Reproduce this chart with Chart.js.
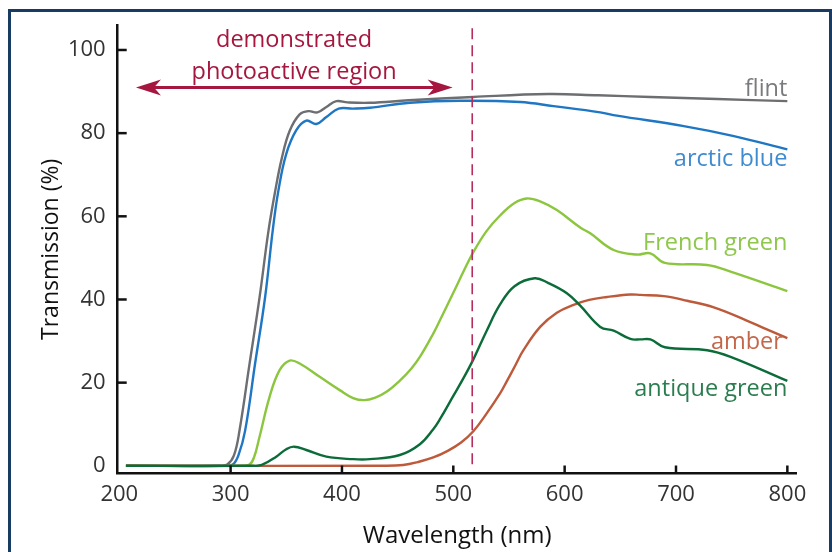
<!DOCTYPE html>
<html><head><meta charset="utf-8">
<script src="https://cdn.jsdelivr.net/npm/chart.js@4.4.1/dist/chart.umd.min.js"></script>
<style>
html,body{margin:0;padding:0;background:#fff;overflow:hidden;width:832px;height:552px;}
#wrap{position:relative;width:832px;height:552px;}
#frame{position:absolute;left:8px;top:9px;width:824px;height:600px;box-sizing:border-box;border:3px solid #183b63;pointer-events:none;}
canvas{position:absolute;left:0;top:0;}
</style></head><body>
<div id="wrap"><canvas id="c" width="832" height="552"></canvas><div id="frame"></div></div>
<script>
// ---- data (wavelength nm, transmission %) ----
const xTicks = [200, 300, 400, 500, 600, 700, 800];
const yTicks = [0, 20, 40, 60, 80, 100];

const flintNm = [206, 290, 297, 303, 308, 317, 326, 334, 340, 346, 353, 362, 370, 378, 386, 395, 405, 425, 460, 518, 585, 630, 677, 737, 800];
const flintT  = [0, 0, 0.3, 2.5, 8.5, 24.5, 40.5, 56.5, 66, 74, 80.5, 84.5, 85.3, 85, 86.3, 87.7, 87.4, 87.3, 87.9, 88.7, 89.4, 89.1, 88.7, 88.2, 87.7];

const arcticNm = [206, 295, 302, 307, 313, 322, 331, 338, 343, 350, 359, 368, 377, 386, 397, 410, 425, 461, 506, 560, 590, 632, 647, 707, 752, 800];
const arcticT  = [0, 0, 0.3, 2.5, 8.4, 24.6, 40.6, 57, 66.3, 75, 80.7, 83, 82.2, 83.9, 85.9, 85.9, 86.1, 87.3, 87.8, 87.5, 86.5, 85, 84.2, 81.7, 79.3, 76.1];

const frenchNm = [206, 310, 317, 321, 326, 335, 344, 353, 362, 380, 398, 410, 420, 430, 440, 452, 462, 470, 482, 488, 500, 510, 518, 530, 542, 555, 566, 578, 593, 614, 623, 644, 665, 677, 690, 728, 749, 800];
const frenchT  = [0, 0, 0.3, 2, 7, 16.6, 23, 25.3, 24.6, 21.4, 18.2, 16.3, 15.8, 16.4, 17.8, 20.5, 23.3, 26.2, 31.8, 35.0, 41.6, 47.2, 51.4, 56.5, 60.2, 63.2, 64.3, 63.6, 61.5, 57.3, 55.9, 51.9, 50.8, 51.1, 48.8, 48.3, 46.7, 42];

const antiqueNm = [206, 320, 328, 341, 350, 357, 368, 386, 410, 425, 452, 470, 482, 488, 500, 510, 518, 530, 542, 555, 573, 585, 602, 614, 632, 644, 659, 668, 677, 690, 728, 749, 800];
const antiqueT  = [0, 0, 0.2, 2.2, 4, 4.6, 3.8, 2.2, 1.6, 1.6, 2.6, 5.2, 8.8, 11.2, 16.8, 21.5, 25.6, 32.5, 38.8, 43.2, 45.1, 44, 41.5, 38.5, 33.4, 32.5, 30.5, 30.4, 30.4, 28.5, 27.8, 26.2, 20.4];

const amberNm = [206, 440, 455, 468, 482, 495, 507, 518, 530, 542, 548, 556, 563, 578, 593, 608, 622, 638, 659, 668, 689, 710, 734, 763, 780, 800];
const amberT  = [0, 0, 0.2, 0.9, 2.0, 3.6, 5.6, 8.3, 12.6, 17.4, 20.3, 24.3, 27.8, 33.4, 36.8, 38.7, 39.9, 40.6, 41.2, 41.1, 40.8, 39.7, 38.1, 35, 33, 30.7];

const seriesNames = ['antique green', 'amber', 'French green', 'arctic blue', 'flint'];
// label anchor (nm, transmission %) for each series name
const labelNm = [800, 796, 800, 800, 800];
const labelT  = [16.9, 28.1, 52.0, 72.1, 88.9];

const regionText = ['demonstrated', 'photoactive region'];
const regionTextNm = 357;
const regionTextT = [100.7, 93.0];
const arrowNm = [215, 499.4];
const arrowT = 91.0;
const cutoffNm = 517;
const cutoffT = [105.2, -1];

// ---- build ----
const zip = (xs, ys) => xs.map((v, i) => ({x: v, y: ys[i]}));
const lineCol = ['#0b6c39', '#bd5a3b', '#8cc63f', '#1f77c4', '#6d6e71'];
const textCol = ['#2b7d50', '#c46649', '#8ec74a', '#3f8bd0', '#7a7b7e'];
const seriesData = [zip(antiqueNm, antiqueT), zip(amberNm, amberT), zip(frenchNm, frenchT), zip(arcticNm, arcticT), zip(flintNm, flintT)];

const FONT = "'Open Sans', 'Noto Sans', sans-serif";
const crimson = '#a6173f';

const annot = {
  id: 'annot',
  afterDraw(chart) {
    const {ctx, scales: {x, y}} = chart;
    ctx.save();
    // inward tick marks
    ctx.strokeStyle = '#111'; ctx.lineWidth = 2.5; ctx.lineCap = 'butt';
    const y0 = y.getPixelForValue(y.min), x0 = x.getPixelForValue(x.min);
    yTicks.forEach(v => { if (v === 0) return; const py = y.getPixelForValue(v);
      ctx.beginPath(); ctx.moveTo(x0, py); ctx.lineTo(x0 + 9, py); ctx.stroke(); });
    xTicks.forEach(v => { if (v === 200) return; const px = x.getPixelForValue(v);
      ctx.beginPath(); ctx.moveTo(px, y0); ctx.lineTo(px, y0 - 8); ctx.stroke(); });

    // dashed cutoff line
    ctx.strokeStyle = '#b72c5c'; ctx.lineWidth = 1.6; ctx.setLineDash([11, 6]);
    const cx = x.getPixelForValue(cutoffNm);
    ctx.beginPath(); ctx.moveTo(cx, y.getPixelForValue(cutoffT[0])); ctx.lineTo(cx, y.getPixelForValue(cutoffT[1])); ctx.stroke();
    ctx.setLineDash([]);

    // double arrow
    const ay = y.getPixelForValue(arrowT);
    const ax1 = x.getPixelForValue(arrowNm[0]), ax2 = x.getPixelForValue(arrowNm[1]);
    ctx.strokeStyle = crimson; ctx.fillStyle = crimson; ctx.lineWidth = 3;
    ctx.beginPath(); ctx.moveTo(ax1 + 16, ay); ctx.lineTo(ax2 - 16, ay); ctx.stroke();
    [[ax1, 1], [ax2, -1]].forEach(([tx, d]) => {
      ctx.beginPath(); ctx.moveTo(tx, ay); ctx.lineTo(tx + d * 25, ay - 8);
      ctx.lineTo(tx + d * 18, ay); ctx.lineTo(tx + d * 25, ay + 8); ctx.closePath(); ctx.fill();
    });

    // region text
    ctx.font = "23.5px " + FONT; ctx.textAlign = 'center'; ctx.textBaseline = 'alphabetic';
    regionText.forEach((t, i) => ctx.fillText(t, x.getPixelForValue(regionTextNm), y.getPixelForValue(regionTextT[i])));

    // series labels
    ctx.font = "23.5px " + FONT; ctx.textAlign = 'right';
    seriesNames.forEach((t, i) => { ctx.fillStyle = textCol[i];
      ctx.fillText(t, x.getPixelForValue(labelNm[i]), y.getPixelForValue(labelT[i])); });
    ctx.restore();
  }
};

new Chart(document.getElementById('c'), {
  type: 'line',
  data: {
    datasets: seriesNames.map((n, i) => ({
      label: n, data: seriesData[i], borderColor: lineCol[i], borderWidth: 2.4,
      pointRadius: 0, tension: 0.4, fill: false
    }))
  },
  options: {
    responsive: false, animation: false, devicePixelRatio: 1,
    layout: {padding: {top: 25, right: 35.3, bottom: 0, left: 0}},
    plugins: {legend: {display: false}, tooltip: {enabled: false}},
    scales: {
      x: {
        type: 'linear', min: 198.6, max: 808.4,
        afterFit: s => { s.height = 78.5; },
        afterBuildTicks: s => { s.ticks = xTicks.map(v => ({value: v})); },
        grid: {display: false, drawTicks: false},
        border: {display: true, color: '#111', width: 2.5},
        ticks: {color: '#333', font: {family: FONT, size: 22}, padding: 8, maxRotation: 0},
        title: {display: true, text: 'Wavelength (nm)', color: '#111', font: {family: FONT, size: 24}, padding: {top: 0, bottom: 1}}
      },
      y: {
        type: 'linear', min: -1.85, max: 105.96,
        afterFit: s => { s.width = 117.7; },
        afterBuildTicks: s => { s.ticks = yTicks.map(v => ({value: v})); },
        grid: {display: false, drawTicks: false},
        border: {display: true, color: '#111', width: 2.5},
        ticks: {color: '#333', font: {family: FONT, size: 22}, padding: 12},
        title: {display: true, text: 'Transmission (%)', color: '#111', font: {family: FONT, size: 23}, padding: {top: 38, bottom: 0}}
      }
    }
  },
  plugins: [annot]
});
</script>
</body></html>
